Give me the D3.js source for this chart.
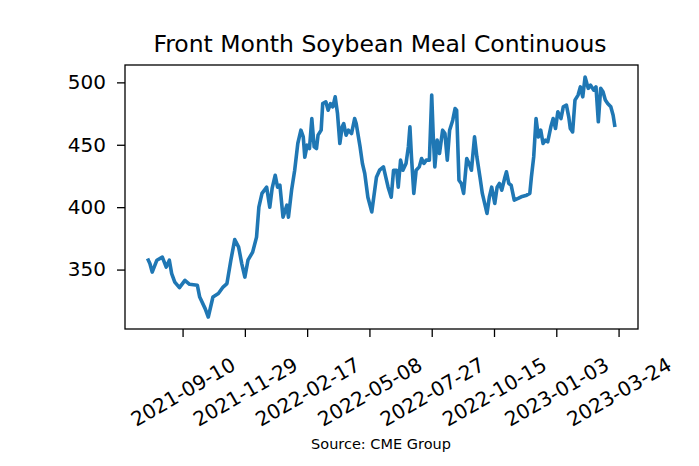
<!DOCTYPE html>
<html>
<head>
<meta charset="utf-8">
<script src="https://cdn.jsdelivr.net/npm/d3@7"></script>
<style>
  body { margin: 0; background: #fff; }
  svg text { font-family: "DejaVu Sans", sans-serif; fill: #000; }
</style>
</head>
<body>
<svg id="chart" width="699" height="466"></svg>
<script>
var dates = [
  "2021-07-28","2021-07-30","2021-08-02","2021-08-08","2021-08-15","2021-08-20","2021-08-24","2021-08-27","2021-08-31","2021-09-06",
  "2021-09-13","2021-09-19","2021-09-29","2021-10-02","2021-10-09","2021-10-13","2021-10-19","2021-10-26","2021-11-01","2021-11-06",
  "2021-11-11","2021-11-16","2021-11-21","2021-11-25","2021-11-29","2021-12-03","2021-12-09","2021-12-14","2021-12-17","2021-12-21",
  "2021-12-27","2021-12-31","2022-01-03","2022-01-07","2022-01-10","2022-01-13","2022-01-17","2022-01-22","2022-01-24","2022-01-28",
  "2022-02-01","2022-02-05","2022-02-09","2022-02-12","2022-02-14","2022-02-17","2022-02-20","2022-02-23","2022-02-26","2022-03-01",
  "2022-03-03","2022-03-07","2022-03-09","2022-03-13","2022-03-16","2022-03-19","2022-03-22","2022-03-25","2022-03-28","2022-03-31",
  "2022-04-03","2022-04-05","2022-04-08","2022-04-11","2022-04-15","2022-04-19","2022-04-21","2022-04-26","2022-04-29","2022-05-02",
  "2022-05-06","2022-05-11","2022-05-17","2022-05-21","2022-05-26","2022-05-29","2022-06-01","2022-06-05","2022-06-08","2022-06-12",
  "2022-06-14","2022-06-17","2022-06-20","2022-06-24","2022-06-27","2022-06-29","2022-07-01","2022-07-04","2022-07-07","2022-07-11",
  "2022-07-14","2022-07-17","2022-07-20","2022-07-24","2022-07-27","2022-07-29","2022-07-31","2022-08-03","2022-08-06","2022-08-10",
  "2022-08-13","2022-08-16","2022-08-19","2022-08-23","2022-08-26","2022-08-28","2022-08-31","2022-09-03","2022-09-06","2022-09-10",
  "2022-09-13","2022-09-16","2022-09-20","2022-09-23","2022-09-27","2022-09-30","2022-10-03","2022-10-06","2022-10-09","2022-10-12",
  "2022-10-16","2022-10-19","2022-10-22","2022-10-25","2022-10-29","2022-10-31","2022-11-03","2022-11-06","2022-11-10","2022-11-15",
  "2022-11-19","2022-11-26","2022-11-30","2022-12-02","2022-12-05","2022-12-08","2022-12-11","2022-12-14","2022-12-17","2022-12-20",
  "2022-12-23","2022-12-27","2022-12-30","2023-01-02","2023-01-05","2023-01-09","2023-01-12","2023-01-16","2023-01-19","2023-01-21",
  "2023-01-24","2023-01-27","2023-01-31","2023-02-03","2023-02-06","2023-02-09","2023-02-13","2023-02-16","2023-02-20","2023-02-23",
  "2023-02-26","2023-03-01","2023-03-04","2023-03-07","2023-03-10","2023-03-14","2023-03-17","2023-03-19"
];

var prices = [
  357.5, 354.8, 348, 357.5, 360, 352, 357.5, 346.8, 340, 335.5,
  341.4, 338.2, 337.4, 328, 318.7, 312, 328, 330.8, 336, 338.8,
  357.5, 374, 368, 354.8, 344, 357.5, 364, 376, 400, 411,
  416, 400, 415, 425.6, 416, 417.6, 392, 401.6, 392, 413.6,
  429.6, 451, 461.7, 456.3, 440, 449.7, 447, 471, 448.3, 447,
  457.7, 461.7, 483, 484.4, 477.7, 483, 480.4, 488.4, 475, 451,
  464.4, 467, 457.7, 461.7, 459, 471, 467, 448.3, 435, 427,
  408, 396.2, 424, 429.6, 432.3, 424, 416, 408, 429.6, 429.6,
  416, 437.7, 429.6, 435, 448.3, 464.4, 440.3, 411, 429.6, 432.3,
  439, 435, 437.7, 437.7, 489.8, 456.3, 432.3, 453.7, 443, 461.7,
  459, 437.7, 461.7, 469.7, 479, 477.7, 421.6, 419, 411, 439,
  435, 429.6, 456.3, 440.3, 424, 411, 403, 395, 408, 416,
  403, 416, 419, 413.6, 424, 428.3, 419, 417.6, 405.6, 407,
  408.3, 409.6, 411, 424, 440.3, 471, 456.3, 461.7, 451, 453.7,
  452.3, 464.4, 471, 463, 476.4, 471, 480.4, 481.8, 472.4, 463,
  460.3, 485.8, 489.8, 496.4, 488.4, 504.3, 495.2, 497.8, 493.8, 496.4,
  468.4, 495.2, 492.4, 485.8, 483, 480.4, 473.7, 465.7
];

var xTickLabels = ["2021-09-10","2021-11-29","2022-02-17","2022-05-08","2022-07-27","2022-10-15","2023-01-03","2023-03-24"];
var yTickLabels = [350, 400, 450, 500];

var chartTitle = "Front Month Soybean Meal Continuous";
var sourceNote = "Source: CME Group";

// plot box (pixels)
var plotLeft = 125, plotRight = 638, plotTop = 65, plotBottom = 329;

var svg = d3.select("#chart");
var parseDate = d3.timeParse("%Y-%m-%d");

var data = dates.map(function(d, i) {
  return { date: parseDate(d), price: prices[i] };
});

// matplotlib style 5% margins
function padExtent(ext) {
  var p = (ext[1] - ext[0]) * 0.05;
  return [ext[0] - p, ext[1] + p];
}

var xExt = padExtent(d3.extent(data, function(d) { return +d.date; }));
var yExt = padExtent(d3.extent(data, function(d) { return d.price; }));

var xScale = d3.scaleTime()
  .domain([new Date(xExt[0]), new Date(xExt[1])])
  .range([plotLeft, plotRight]);

var yScale = d3.scaleLinear()
  .domain(yExt)
  .range([plotBottom, plotTop]);

var line = d3.line()
  .x(function(d) { return xScale(d.date); })
  .y(function(d) { return yScale(d.price); });

svg.append("path")
  .datum(data)
  .attr("d", line)
  .attr("fill", "none")
  .attr("stroke", "#1f77b4")
  .attr("stroke-width", 3.6)
  .attr("stroke-linejoin", "round")
  .attr("stroke-linecap", "square");

// x axis
var xAxis = d3.axisBottom(xScale)
  .tickValues(xTickLabels.map(parseDate))
  .tickFormat(d3.timeFormat("%Y-%m-%d"))
  .tickSize(8)
  .tickSizeOuter(0);

var gx = svg.append("g")
  .attr("transform", "translate(0," + plotBottom + ")")
  .call(xAxis)
  .attr("font-family", "DejaVu Sans")
  .attr("font-size", 20);
gx.select(".domain").remove();
gx.selectAll(".tick line").attr("stroke", "#000").attr("stroke-width", 1.3);
gx.selectAll(".tick text")
  .attr("y", null)
  .attr("dy", "0.35em")
  .attr("text-anchor", "middle")
  .attr("transform", "translate(0,63) rotate(-30)");

// y axis
var yAxis = d3.axisLeft(yScale)
  .tickValues(yTickLabels)
  .tickSize(8)
  .tickPadding(11)
  .tickSizeOuter(0);

var gy = svg.append("g")
  .attr("transform", "translate(" + plotLeft + ",0)")
  .call(yAxis)
  .attr("font-family", "DejaVu Sans")
  .attr("font-size", 20);
gy.select(".domain").remove();
gy.selectAll(".tick line").attr("stroke", "#000").attr("stroke-width", 1.3);

// frame
svg.append("rect")
  .attr("x", plotLeft)
  .attr("y", plotTop)
  .attr("width", plotRight - plotLeft)
  .attr("height", plotBottom - plotTop)
  .attr("fill", "none")
  .attr("stroke", "#000")
  .attr("stroke-width", 1.3);

svg.append("text")
  .attr("x", 380)
  .attr("y", 52)
  .attr("text-anchor", "middle")
  .style("font-size", "23.5px")
  .text(chartTitle);

svg.append("text")
  .attr("x", 381)
  .attr("y", 449)
  .attr("text-anchor", "middle")
  .style("font-size", "14.5px")
  .text(sourceNote);
</script>
</body>
</html>
